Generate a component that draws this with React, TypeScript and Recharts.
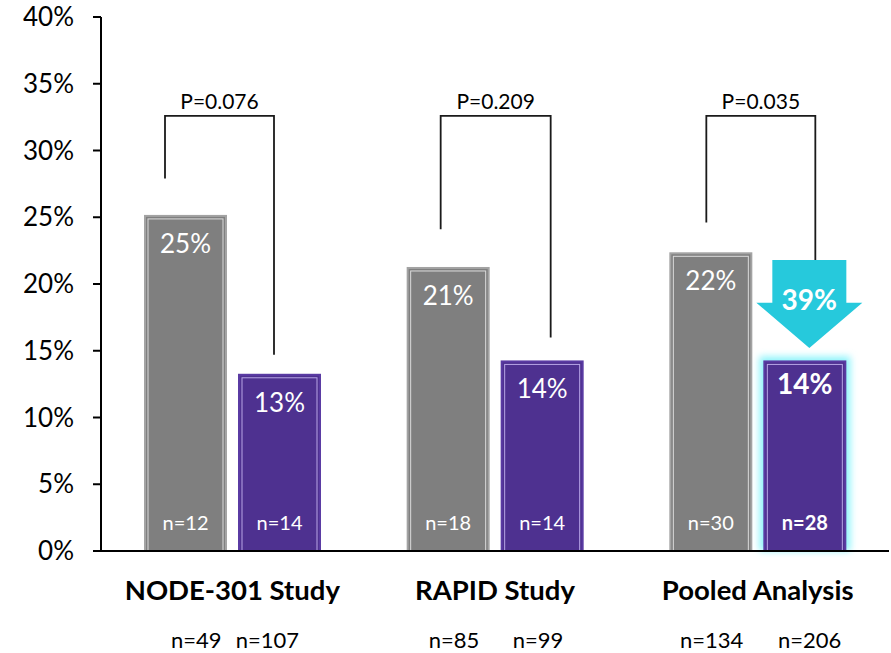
import { Bar, BarChart, XAxis, YAxis } from 'recharts'

const categories = ['NODE-301 Study', 'RAPID Study', 'Pooled Analysis']
const controlRate = [25.1, 21.2, 22.3]
const treatedRate = [13.2, 14.2, 14.2]
const controlN = ['n=12', 'n=18', 'n=30']
const treatedN = ['n=14', 'n=14', 'n=28']
const totalControlN = ['n=49', 'n=85', 'n=134']
const totalTreatedN = ['n=107', 'n=99', 'n=206']
const pValues = ['P=0.076', 'P=0.209', 'P=0.035']
const bracketTop = [32.6, 32.6, 32.6]
const bracketLeftEnd = [27.9, 24.1, 24.6]
const bracketRightEnd = [14.7, 16.0, 21.8]
const reductionLabel = '39%'
const arrowTop = 21.8
const arrowNeck = 18.6
const arrowTip = 15.2
const yTicks = [0, 5, 10, 15, 20, 25, 30, 35, 40]

const data = categories.map((name, i) => ({
  name,
  control: controlRate[i],
  treated: treatedRate[i],
}))

// layout bits (pixels), kept away from the data
const BAR_SIZE = 81
const BAR_GAP = 13
const FONT = "Lato, 'Open Sans', sans-serif"
const bracketLeftInset = [20, 33, 36]
const bracketRightInset = [35, 49, 51]
const totalNOffsets = [
  [-36, 35],
  [-41, 43],
  [-46, 52],
]

const GREY = '#7f7f7f'
const PURPLE = '#4e3190'
const CYAN = '#26c9dc'

function ControlBar(props: any) {
  const { x, y, width, height, index } = props
  return (
    <g>
      <rect x={x} y={y} width={width} height={height} fill={GREY} stroke="#a3a3a3" strokeWidth={2} />
      <rect x={x + 3} y={y + 3} width={width - 6} height={height - 3} fill="none" stroke="#dcdcdc" strokeWidth={1} />
      <text x={x + width / 2} y={y + 37} textAnchor="middle" fill="#fff" fontSize={26} fontFamily={FONT}>
        {Math.round(controlRate[index])}%
      </text>
      <text x={x + width / 2} y={y + height - 21} textAnchor="middle" fill="#fff" fontSize={20} fontFamily={FONT}>
        {controlN[index]}
      </text>
    </g>
  )
}

function TreatedBar(props: any) {
  const { x, y, width, height, index, payload } = props
  const base = y + height
  const pxPer = height / payload.treated
  const yOf = (v: number) => base - v * pxPer
  const gx = x - BAR_GAP - width
  const pooled = index === 2
  const lx = gx + bracketLeftInset[index]
  const rx = x + bracketRightInset[index]
  const cx = x + width / 2 + 4.5
  return (
    <g>
      {pooled ? (
        <>
          <defs>
            <filter id="glow" x="-30%" y="-30%" width="160%" height="160%">
              <feGaussianBlur stdDeviation="3.5" />
            </filter>
          </defs>
          <rect x={x - 5} y={y - 5} width={width + 10} height={height + 5} fill="#8ff4fb" filter="url(#glow)" />
        </>
      ) : null}
      <rect x={x} y={y} width={width} height={height} fill={PURPLE} stroke="#5a3ba3" strokeWidth={2} />
      <rect x={x + 3} y={y + 3} width={width - 6} height={height - 3} fill="none" stroke="#b8a6e6" strokeWidth={1} />
      <text
        x={x + width / 2}
        y={y + (pooled ? 33 : 37)}
        textAnchor="middle"
        fill="#fff"
        fontSize={pooled ? 28 : 26}
        fontWeight={pooled ? 700 : 400}
        fontFamily={FONT}
      >
        {Math.round(treatedRate[index])}%
      </text>
      <text
        x={x + width / 2}
        y={y + height - 21}
        textAnchor="middle"
        fill="#fff"
        fontSize={20}
        fontWeight={pooled ? 700 : 400}
        fontFamily={FONT}
      >
        {treatedN[index]}
      </text>
      <path
        d={`M${lx},${yOf(bracketLeftEnd[index])} V${yOf(bracketTop[index])} H${rx} V${yOf(bracketRightEnd[index])}`}
        fill="none"
        stroke="#1a1a1a"
        strokeWidth={1.8}
      />
      <text x={(lx + rx) / 2} y={yOf(bracketTop[index]) - 7} textAnchor="middle" fill="#000" fontSize={21} fontFamily={FONT}>
        {pValues[index]}
      </text>
      {pooled ? (
        <>
          <polygon
            points={[
              [cx - 37, yOf(arrowTop)],
              [cx + 37, yOf(arrowTop)],
              [cx + 37, yOf(arrowNeck)],
              [cx + 53, yOf(arrowNeck)],
              [cx, yOf(arrowTip)],
              [cx - 53, yOf(arrowNeck)],
              [cx - 37, yOf(arrowNeck)],
            ]
              .map((p) => p.join(','))
              .join(' ')}
            fill={CYAN}
          />
          <text x={cx} y={yOf(arrowNeck) + 7} textAnchor="middle" fill="#fff" fontSize={28} fontWeight={700} fontFamily={FONT}>
            {reductionLabel}
          </text>
        </>
      ) : null}
    </g>
  )
}

function CategoryTick(props: any) {
  const { x, y, index, payload } = props
  const [lo, ro] = totalNOffsets[index]
  return (
    <g>
      <text x={x} y={y + 49} textAnchor="middle" fill="#000" fontSize={27.5} fontWeight={700} fontFamily={FONT}>
        {payload.value}
      </text>
      <text x={x + lo} y={y + 97} textAnchor="middle" fill="#000" fontSize={22} fontFamily={FONT}>
        {totalControlN[index]}
      </text>
      <text x={x + ro} y={y + 97} textAnchor="middle" fill="#000" fontSize={22} fontFamily={FONT}>
        {totalTreatedN[index]}
      </text>
    </g>
  )
}

export default function App() {
  return (
    <div style={{ position: 'absolute', left: 0, top: 0, background: '#fff' }}>
      <BarChart
        width={891}
        height={653}
        data={data}
        margin={{ top: 17, right: 2, left: 0, bottom: 0 }}
        barSize={BAR_SIZE}
        barGap={BAR_GAP}
      >
        <XAxis
          dataKey="name"
          height={102}
          tickLine={false}
          tickSize={0}
          tickMargin={0}
          axisLine={{ stroke: '#000', strokeWidth: 2 }}
          tick={<CategoryTick />}
          interval={0}
        />
        <YAxis
          width={101}
          domain={[0, 40]}
          ticks={yTicks}
          tickFormatter={(v) => `${v}%`}
          tickSize={8}
          tickMargin={19}
          tickLine={{ stroke: '#000', strokeWidth: 2 }}
          axisLine={{ stroke: '#000', strokeWidth: 2 }}
          tick={{ fill: '#000', fontSize: 26, fontFamily: FONT }}
        />
        <Bar dataKey="control" shape={<ControlBar />} isAnimationActive={false} />
        <Bar dataKey="treated" shape={<TreatedBar />} isAnimationActive={false} />
      </BarChart>
    </div>
  )
}
